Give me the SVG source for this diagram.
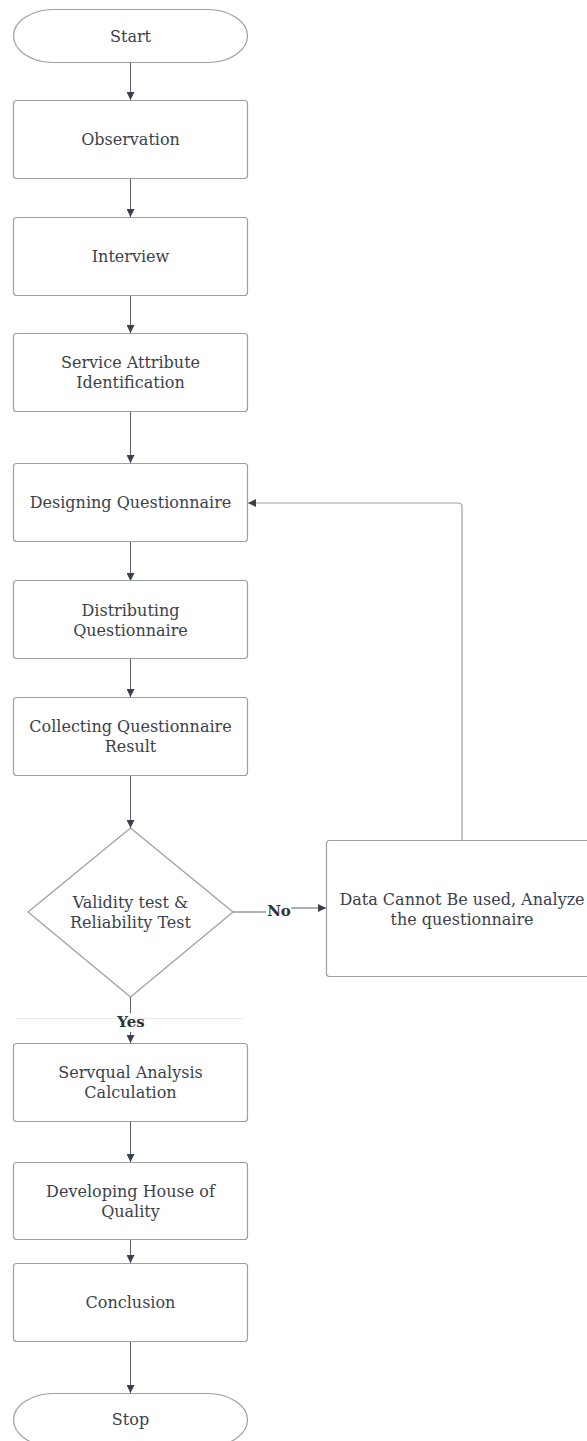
<svg xmlns="http://www.w3.org/2000/svg" width="587" height="1441" viewBox="0 0 587 1441">
<defs>
<marker id="ah" viewBox="0 0 10 10" refX="10" refY="5" markerWidth="8" markerHeight="8" markerUnits="userSpaceOnUse" orient="auto">
<path d="M0,0 L10,5 L0,10 z" fill="#3b414c"/>
</marker>
<style>
.box{fill:#ffffff;stroke:#9a9fa6;stroke-width:1.2}
.t{font-family:"DejaVu Serif","Liberation Serif",serif;font-size:16px;fill:#3b414c;text-anchor:middle;dominant-baseline:central}
.lbl{font-family:"DejaVu Serif","Liberation Serif",serif;font-size:15px;font-weight:bold;fill:#2e333b;text-anchor:middle;dominant-baseline:central}
.c{fill:none;stroke:#5d636c;stroke-width:1.1}
.c2{fill:none;stroke:#9a9fa6;stroke-width:1.2}
</style>
</defs>
<rect width="587" height="1441" fill="#ffffff"/>
<g id="connectors">
<path class="c" d="M130.5,62 V100" marker-end="url(#ah)"/>
<path class="c" d="M130.5,178 V217" marker-end="url(#ah)"/>
<path class="c" d="M130.5,295 V333" marker-end="url(#ah)"/>
<path class="c" d="M130.5,412 V463" marker-end="url(#ah)"/>
<path class="c" d="M130.5,541 V581" marker-end="url(#ah)"/>
<path class="c" d="M130.5,658 V697" marker-end="url(#ah)"/>
<path class="c" d="M130.5,775 V828" marker-end="url(#ah)"/>
<path class="c" d="M233,912 H266"/>
<path class="c" d="M291,908 H326" marker-end="url(#ah)"/>
<path class="c2" d="M462,840 V507 Q462,503 458,503 H248" marker-end="url(#ah)"/>
<path class="c" d="M130.5,997 V1013"/>
<path class="c" d="M130.5,1032 V1043" marker-end="url(#ah)"/>
<path d="M16,1018.5 H243" stroke="#ececec" stroke-width="1"/>
<path class="c" d="M130.5,1121 V1162" marker-end="url(#ah)"/>
<path class="c" d="M130.5,1239 V1263" marker-end="url(#ah)"/>
<path class="c" d="M130.5,1342 V1393" marker-end="url(#ah)"/>
<text class="lbl" x="279" y="911">No</text>
<text class="lbl" x="131" y="1022">Yes</text>
</g>
<g id="start">
<rect class="box" x="13.5" y="9.5" width="234" height="53" rx="40" ry="26.5"/>
<text class="t" x="130.5" y="36">Start</text>
</g>
<g id="observation">
<rect class="box" x="13.5" y="100.5" width="234" height="78" rx="3"/>
<text class="t" x="130.5" y="139.5">Observation</text>
</g>
<g id="interview">
<rect class="box" x="13.5" y="217.5" width="234" height="78" rx="3"/>
<text class="t" x="130.5" y="256.5">Interview</text>
</g>
<g id="service-attribute">
<rect class="box" x="13.5" y="333.5" width="234" height="78" rx="3"/>
<text class="t" x="130.5" y="362.5">Service Attribute</text>
<text class="t" x="130.5" y="382.5">Identification</text>
</g>
<g id="designing">
<rect class="box" x="13.5" y="463.5" width="234" height="78" rx="3"/>
<text class="t" x="130.5" y="502.5">Designing Questionnaire</text>
</g>
<g id="distributing">
<rect class="box" x="13.5" y="580.5" width="234" height="78" rx="3"/>
<text class="t" x="130.5" y="610">Distributing</text>
<text class="t" x="130.5" y="630">Questionnaire</text>
</g>
<g id="collecting">
<rect class="box" x="13.5" y="697.5" width="234" height="78" rx="3"/>
<text class="t" x="130.5" y="726.5">Collecting Questionnaire</text>
<text class="t" x="130.5" y="746.5">Result</text>
</g>
<g id="validity">
<path class="box" d="M130.5,828 L233,912 L130.5,997 L28,912 Z" stroke-linejoin="round"/>
<text class="t" x="130.5" y="902">Validity test &amp;</text>
<text class="t" x="130.5" y="922">Reliability Test</text>
</g>
<g id="data-cannot">
<rect class="box" x="326.5" y="840.5" width="300" height="136" rx="3"/>
<text class="t" x="462" y="899">Data Cannot Be used, Analyze</text>
<text class="t" x="462" y="919">the questionnaire</text>
</g>
<g id="servqual">
<rect class="box" x="13.5" y="1043.5" width="234" height="78" rx="3"/>
<text class="t" x="130.5" y="1072.5">Servqual Analysis</text>
<text class="t" x="130.5" y="1092.5">Calculation</text>
</g>
<g id="house-of-quality">
<rect class="box" x="13.5" y="1162.5" width="234" height="77" rx="3"/>
<text class="t" x="130.5" y="1191">Developing House of</text>
<text class="t" x="130.5" y="1211">Quality</text>
</g>
<g id="conclusion">
<rect class="box" x="13.5" y="1263.5" width="234" height="78" rx="3"/>
<text class="t" x="130.5" y="1302.5">Conclusion</text>
</g>
<g id="stop">
<rect class="box" x="13.5" y="1393.5" width="234" height="53" rx="40" ry="26.5"/>
<text class="t" x="130.5" y="1419">Stop</text>
</g>
</svg>
